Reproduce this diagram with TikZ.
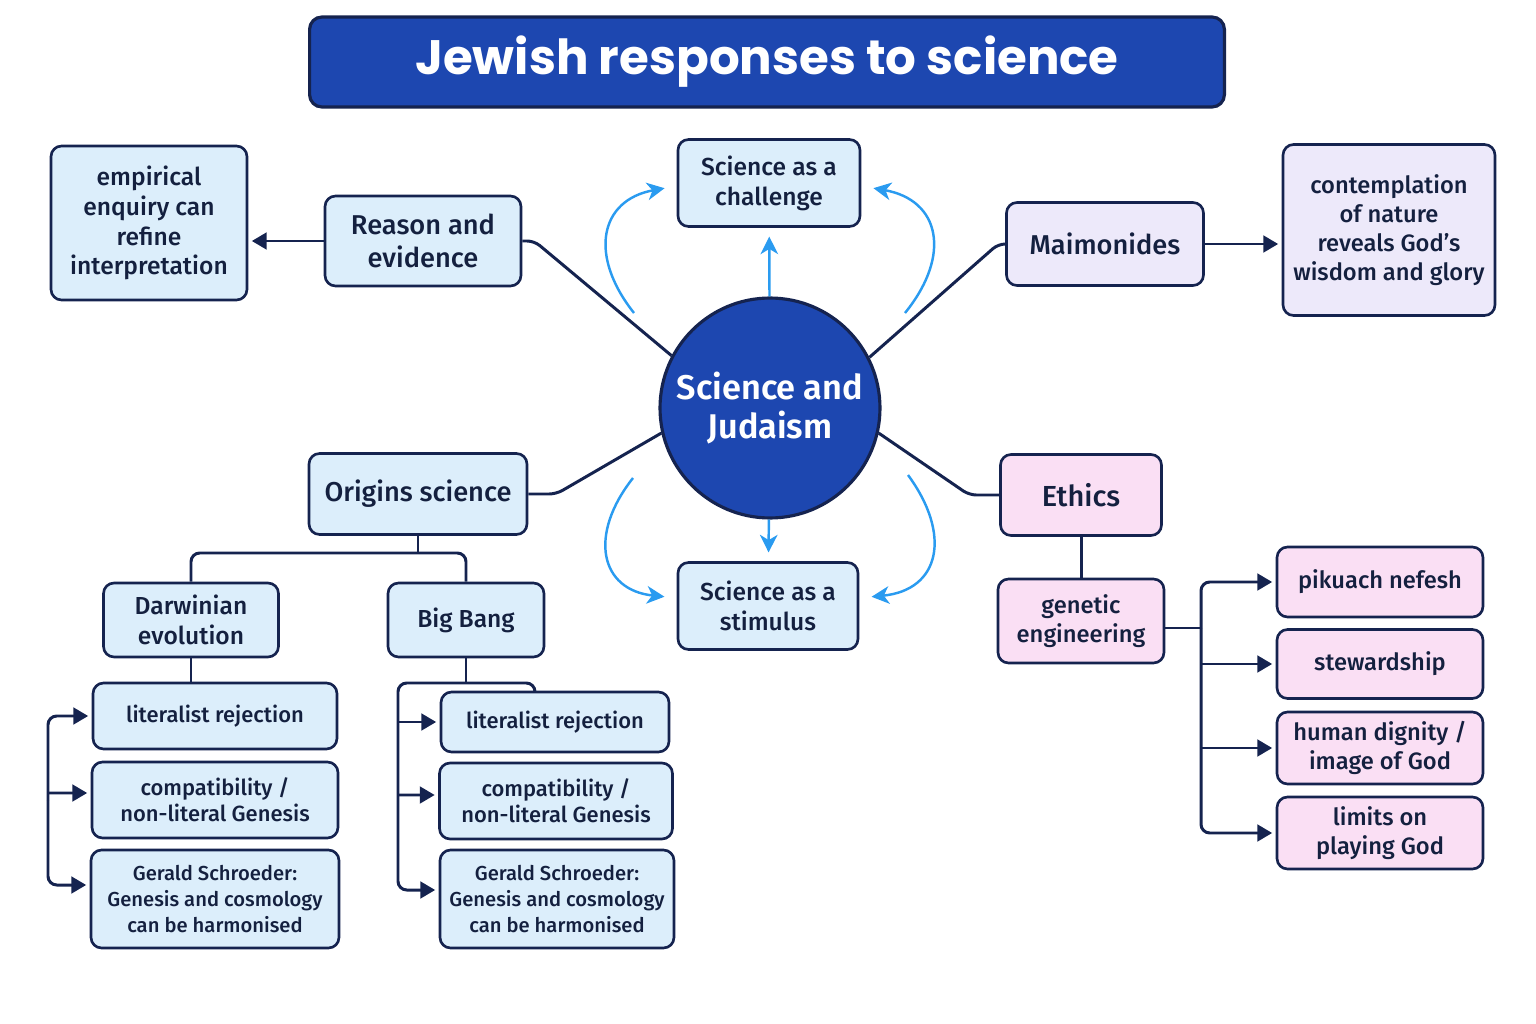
\documentclass[tikz,border=0pt]{standalone}
\usepackage{fontspec}
\setmainfont{Fira Sans}[UprightFont={* Medium},BoldFont={* SemiBold}]
\newfontfamily\titlefont{Poppins}
\usetikzlibrary{positioning,calc,arrows.meta}

\definecolor{navy}{HTML}{15234F}
\definecolor{ink}{HTML}{14203F}
\definecolor{royal}{HTML}{1D47B0}
\definecolor{sky}{HTML}{2A9BF0}
\definecolor{paleblue}{HTML}{DCEEFB}
\definecolor{palelilac}{HTML}{EDE9FA}
\definecolor{palepink}{HTML}{FADFF4}

\begin{document}
\begin{tikzpicture}[
		x=0.02cm, y=-0.02cm,
		box/.style={draw=navy, line width=1.5pt, rounded corners=6pt, align=center, text=ink, inner sep=0pt},
		bluebox/.style={box, fill=paleblue},
		lilacbox/.style={box, fill=palelilac},
		pinkbox/.style={box, fill=palepink},
		main/.style={font=\fontsize{15.5}{19}\selectfont},
		sub/.style={font=\fontsize{14}{17}\selectfont},
		side/.style={font=\fontsize{13.5}{16.5}\selectfont},
		leaf/.style={font=\fontsize{12.5}{15}\selectfont},
		small/.style={font=\fontsize{11.5}{15}\selectfont},
		link/.style={draw=navy, line width=1.7pt},
		arr/.style={link, -{Triangle[length=8.5pt,width=9.5pt]}, shorten >=2pt},
		flow/.style={draw=sky, line width=1.4pt, -{Stealth[length=10pt,width=10pt,inset=3pt]}}
		]
		\useasboundingbox (0,0) rectangle (1536,1024);
		
		% -------------------------------------------------
		% Title
		% -------------------------------------------------
		\node[draw=navy, fill=royal, line width=1.8pt, rounded corners=7pt, minimum width=18.3cm, minimum height=1.8cm,
		text=white, font=\titlefont\bfseries\fontsize{27.5}{32}\selectfont] (title) at (767,62) {Jewish responses to science};
		
		% -------------------------------------------------
		% Centre and the two blue views
		% -------------------------------------------------
		\node[circle, draw=navy, fill=royal, line width=1.8pt, minimum size=4.4cm, inner sep=0pt, align=center, text=white,
		font=\bfseries\fontsize{19.5}{22}\selectfont] (hub) at (770,408) {Science and\\Judaism};
		
		\node[bluebox, sub, minimum width=3.64cm, minimum height=1.74cm] (challenge) at (769,183) {Science as a\\challenge};
		\node[bluebox, sub, minimum width=3.6cm, minimum height=1.74cm] (stimulus) at (768,606) {Science as a\\stimulus};
		
		\draw[flow, shorten >=5pt] (hub) -- (challenge);
		\draw[flow, shorten >=5pt] (hub) -- (stimulus);
		
		\coordinate (tl) at (634,313);
		\coordinate (tr) at (905,313);
		\coordinate (bl) at (633,478);
		\coordinate (br) at (908,475);
		\draw[flow, shorten >=7pt] (tl) .. controls (588,255) and (600,200) .. (challenge.west |- 0,186);
		\draw[flow, shorten >=7pt] (tr) .. controls (952,255) and (940,200) .. (challenge.east |- 0,186);
		\draw[flow, shorten >=7pt] (bl) .. controls (588,535) and (600,590) .. (stimulus.west |- 0,598);
		\draw[flow, shorten >=7pt] (br) .. controls (952,535) and (940,590) .. (stimulus.east |- 0,598);
		
		% -------------------------------------------------
		% Upper branches
		% -------------------------------------------------
		\node[bluebox, main, minimum width=3.92cm, minimum height=1.8cm] (reason) at (423,241) {Reason and\\evidence};
		\node[bluebox, sub, minimum width=3.92cm, minimum height=3.08cm] (empirical) at (149,223) {empirical\\enquiry can\\refine\\interpretation};
		
		\node[lilacbox, main, minimum width=3.94cm, minimum height=1.66cm] (maimonides) at (1105,244) {Maimonides};
		\node[lilacbox, side, minimum width=4.24cm, minimum height=3.42cm] (contemplation) at (1389,230) {contemplation\\of nature\\reveals God's\\wisdom and glory};
		
		\draw[link, rounded corners=4pt] (reason.east) -- ++(12,0) -- (hub.152);
		\draw[arr] (reason.west) -- (reason.west -| empirical.east);
		\draw[link, rounded corners=4pt] (hub.27) -- ([xshift=-0.14cm]maimonides.west) -- (maimonides.west);
		\draw[arr] (maimonides.east) -- (maimonides.east -| contemplation.west);
		
		% -------------------------------------------------
		% Origins science
		% -------------------------------------------------
		\node[bluebox, main, minimum width=4.36cm, minimum height=1.62cm] (origins) at (418,494) {Origins science};
		\draw[link, rounded corners=4pt] (origins.east) -- ++(28,0) -- (hub.193);
		
		\node[bluebox, sub, minimum width=3.5cm, minimum height=1.48cm] (darwin) at (191,620) {Darwinian\\evolution};
		\node[bluebox, sub, minimum width=3.12cm, minimum height=1.48cm] (bigbang) at (466,620) {Big Bang};
		\draw[link] (origins.south) -- (origins.south |- 0,553);
		\draw[link, rounded corners=5pt] (darwin.north) |- (bigbang.north |- 0,553) -- (bigbang.north);
		
		% Darwinian evolution
		\node[bluebox, leaf, minimum width=4.88cm, minimum height=1.32cm] (dlit) at (215,716) {literalist rejection};
		\node[bluebox, leaf, minimum width=4.92cm, minimum height=1.52cm] (dcomp) at (215,800) {compatibility /\\non-literal Genesis};
		\node[bluebox, small, minimum width=4.96cm, minimum height=1.96cm] (dgerald) at (215,899) {Gerald Schroeder:\\Genesis and cosmology\\can be harmonised};
		\draw[link] (darwin.south) -- (darwin.south |- dlit.north);
		\coordinate (dspine) at (48,800);
		\draw[arr, rounded corners=5pt] (dspine) |- (dlit.west);
		\draw[arr, rounded corners=5pt] (dspine) |- ([yshift=0.28cm]dgerald.west);
		\draw[arr] (dspine |- 0,793) -- ([yshift=0.14cm]dcomp.west);
		
		% Big Bang
		\node[bluebox, leaf, minimum width=4.56cm, minimum height=1.2cm] (blit) at (555,722) {literalist rejection};
		\node[bluebox, leaf, minimum width=4.66cm, minimum height=1.52cm] (bcomp) at (556,801) {compatibility /\\non-literal Genesis};
		\node[bluebox, small, minimum width=4.68cm, minimum height=1.96cm] (bgerald) at (557,899) {Gerald Schroeder:\\Genesis and cosmology\\can be harmonised};
		\draw[link] (bigbang.south) -- (bigbang.south |- 0,683);
		\coordinate (bhook) at (535,692);
		\coordinate (bspine) at (398,683);
		\draw[arr, rounded corners=5pt] (bhook) |- (bspine) |- ([yshift=0.18cm]bgerald.west);
		\draw[arr] (bspine |- blit.west) -- (blit.west);
		\draw[arr] (bspine |- 0,795) -- ([yshift=0.12cm]bcomp.west);
		
		% -------------------------------------------------
		% Ethics
		% -------------------------------------------------
		\node[pinkbox, font=\fontsize{16.5}{19}\selectfont, minimum width=3.22cm, minimum height=1.62cm] (ethics) at (1081,495) {Ethics};
		\draw[link, rounded corners=4pt] (hub.-13) -- ([xshift=-0.6cm]ethics.west) -- (ethics.west);
		
		\node[pinkbox, side, minimum width=3.32cm, minimum height=1.68cm] (genetic) at (1081,621) {genetic\\engineering};
		\draw[link] (ethics.south) -- (genetic.north);
		
		\node[pinkbox, side, minimum width=4.12cm, minimum height=1.4cm] (pikuach) at (1380,582) {pikuach nefesh};
		\node[pinkbox, side, minimum width=4.12cm, minimum height=1.38cm] (steward) at (1380,664) {stewardship};
		\node[pinkbox, side, minimum width=4.12cm, minimum height=1.44cm] (dignity) at (1380,748) {human dignity /\\image of God};
		\node[pinkbox, side, minimum width=4.12cm, minimum height=1.44cm] (limits) at (1380,833) {limits on\\playing God};
		
		\coordinate (espine) at (1201,628);
		\draw[link] (genetic.east |- espine) -- (espine);
		\draw[arr, rounded corners=5pt] (espine) |- (pikuach.west);
		\draw[arr, rounded corners=5pt] (espine) |- (limits.west);
		\foreach \n in {steward,dignity}
		\draw[arr] (espine |- \n.west) -- (\n.west);
		
	\end{tikzpicture}
\end{document}
